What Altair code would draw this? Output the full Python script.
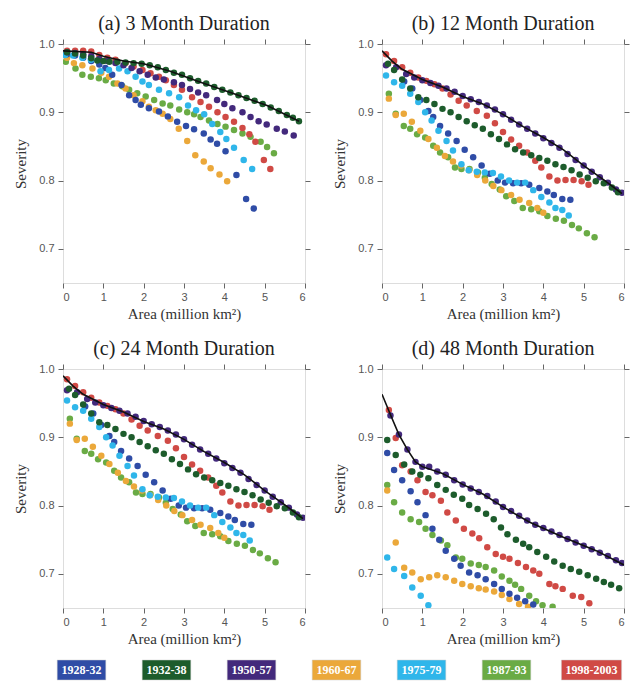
import altair as alt
import pandas as pd

PERIODS = ["1928-32", "1932-38", "1950-57", "1960-67", "1975-79", "1987-93", "1998-2003"]
COLORS = ["#2f4ca6", "#1d5c2c", "#43297c", "#eba83a", "#2fb6ea", "#6aab45", "#d04a45"]
DRAW_ORDER = ["1987-93", "1960-67", "1928-32", "1975-79", "1998-2003", "1950-57", "1932-38"]
TITLES = {"a": "(a) 3 Month Duration", "b": "(b) 12 Month Duration",
          "c": "(c) 24 Month Duration", "d": "(d) 48 Month Duration"}
X_TICKS = [0, 1, 2, 3, 4, 5, 6]
Y_TICKS = [0.7, 0.8, 0.9, 1.0]

# ---------------- panel (a) 3 month ----------------
A = {
    "1928-32": [(0.1, 0.985), (0.3, 0.983), (0.5, 0.98), (0.7, 0.975), (0.9, 0.97), (1.05, 0.965),
                (1.22, 0.955), (1.45, 0.94), (1.64, 0.925), (1.8, 0.918), (1.93, 0.911), (2.13, 0.906),
                (2.38, 0.901), (2.6, 0.894), (2.83, 0.886), (3.05, 0.88), (3.25, 0.875), (3.49, 0.869),
                (3.66, 0.86), (3.82, 0.854), (4.03, 0.843), (4.3, 0.808), (4.54, 0.773), (4.73, 0.759)],
    "1932-38": [(0.1, 0.988), (0.3, 0.986), (0.5, 0.983), (0.7, 0.979), (0.85, 0.976), (1.0, 0.975),
                (1.15, 0.974), (1.35, 0.974), (1.55, 0.973), (1.75, 0.972), (1.95, 0.971), (2.15, 0.969),
                (2.35, 0.966), (2.55, 0.962), (2.75, 0.958), (2.95, 0.955), (3.15, 0.95), (3.35, 0.946),
                (3.55, 0.942), (3.75, 0.937), (3.95, 0.933), (4.15, 0.929), (4.35, 0.925), (4.55, 0.921),
                (4.75, 0.917), (4.95, 0.912), (5.15, 0.907), (5.35, 0.902), (5.55, 0.896), (5.7, 0.892),
                (5.85, 0.887)],
    "1950-57": [(0.1, 0.988), (0.3, 0.987), (0.5, 0.985), (0.7, 0.982), (0.9, 0.978), (1.1, 0.975),
                (1.3, 0.972), (1.5, 0.969), (1.7, 0.965), (1.9, 0.96), (2.1, 0.955), (2.3, 0.951),
                (2.5, 0.948), (2.75, 0.944), (2.95, 0.94), (3.15, 0.934), (3.35, 0.929), (3.55, 0.925),
                (3.82, 0.918), (4.0, 0.912), (4.2, 0.906), (4.45, 0.9), (4.65, 0.893), (4.85, 0.887),
                (5.05, 0.882), (5.3, 0.876), (5.5, 0.872), (5.72, 0.866)],
    "1960-67": [(0.1, 0.98), (0.27, 0.972), (0.48, 0.969), (0.73, 0.964), (0.95, 0.958), (1.14, 0.952),
                (1.35, 0.942), (1.55, 0.935), (1.75, 0.925), (1.97, 0.916), (2.13, 0.908), (2.3, 0.903),
                (2.47, 0.898), (2.66, 0.89), (2.87, 0.876), (3.08, 0.858), (3.28, 0.837), (3.49, 0.828),
                (3.66, 0.818), (3.88, 0.809), (4.07, 0.799)],
    "1975-79": [(0.05, 0.984), (0.25, 0.983), (0.48, 0.98), (0.69, 0.977), (0.93, 0.96), (1.14, 0.962),
                (1.39, 0.964), (1.6, 0.96), (1.8, 0.952), (1.97, 0.945), (2.13, 0.94), (2.38, 0.933),
                (2.63, 0.928), (2.88, 0.922), (3.1, 0.91), (3.3, 0.903), (3.5, 0.897), (3.7, 0.883),
                (3.9, 0.871), (4.05, 0.861), (4.24, 0.848), (4.48, 0.83), (4.69, 0.817)],
    "1987-93": [(0.07, 0.974), (0.31, 0.964), (0.48, 0.955), (0.69, 0.952), (0.89, 0.95), (1.06, 0.947),
                (1.26, 0.942), (1.47, 0.938), (1.64, 0.933), (1.84, 0.928), (2.05, 0.923), (2.26, 0.918),
                (2.47, 0.913), (2.66, 0.91), (2.88, 0.904), (3.08, 0.9), (3.25, 0.897), (3.41, 0.893),
                (3.62, 0.888), (3.83, 0.883), (4.03, 0.879), (4.24, 0.874), (4.45, 0.869), (4.65, 0.864),
                (4.9, 0.857), (5.06, 0.849), (5.23, 0.84)],
    "1998-2003": [(0.1, 0.99), (0.3, 0.99), (0.5, 0.99), (0.7, 0.989), (0.9, 0.984), (1.1, 0.98),
                  (1.3, 0.977), (1.55, 0.972), (1.75, 0.967), (1.97, 0.962), (2.17, 0.957), (2.38, 0.952),
                  (2.55, 0.947), (2.75, 0.94), (2.95, 0.933), (3.2, 0.922), (3.41, 0.915), (3.62, 0.908),
                  (3.83, 0.9), (4.03, 0.893), (4.24, 0.886), (4.45, 0.877), (4.62, 0.868), (4.77, 0.857),
                  (4.98, 0.83), (5.14, 0.817)],
}
A_LINE = [(0.0, 0.99), (0.7, 0.988), (1.0, 0.982), (1.5, 0.975), (2.0, 0.971), (2.66, 0.96),
          (3.41, 0.944), (4.24, 0.927), (5.06, 0.91), (5.85, 0.887)]

# ---------------- panel (b) 12 month ----------------
B = {
    "1928-32": [(0.55, 0.945), (0.75, 0.935), (0.95, 0.918), (1.15, 0.902), (1.27, 0.893), (1.44, 0.88),
                (1.64, 0.869), (1.85, 0.858), (2.05, 0.845), (2.26, 0.834), (2.47, 0.822), (2.67, 0.81),
                (2.87, 0.8), (3.05, 0.797), (3.25, 0.796), (3.45, 0.796), (3.65, 0.794), (3.9, 0.789),
                (4.1, 0.784), (4.26, 0.779), (4.47, 0.773), (4.67, 0.772)],
    "1932-38": [(0.15, 0.971), (0.3, 0.962), (0.5, 0.948), (0.7, 0.935), (0.9, 0.922), (1.1, 0.918),
                (1.3, 0.912), (1.5, 0.905), (1.7, 0.9), (1.9, 0.893), (2.1, 0.887), (2.3, 0.881),
                (2.5, 0.876), (2.7, 0.868), (2.9, 0.861), (3.1, 0.853), (3.3, 0.846), (3.5, 0.841),
                (3.7, 0.837), (3.9, 0.833), (4.1, 0.829), (4.3, 0.824), (4.5, 0.82), (4.7, 0.815),
                (4.9, 0.809), (5.1, 0.804), (5.3, 0.799), (5.5, 0.796), (5.7, 0.79), (5.85, 0.783)],
    "1950-57": [(0.1, 0.969), (0.35, 0.966), (0.6, 0.956), (0.8, 0.951), (1.0, 0.947), (1.2, 0.943),
                (1.4, 0.939), (1.6, 0.935), (1.8, 0.93), (2.0, 0.924), (2.2, 0.919), (2.4, 0.915),
                (2.6, 0.91), (2.8, 0.904), (3.0, 0.897), (3.2, 0.889), (3.4, 0.882), (3.6, 0.876),
                (3.8, 0.869), (4.0, 0.862), (4.2, 0.855), (4.4, 0.848), (4.6, 0.839), (4.8, 0.83),
                (5.0, 0.822), (5.2, 0.813), (5.4, 0.805), (5.6, 0.797), (5.8, 0.787), (5.95, 0.782)],
    "1960-67": [(0.17, 0.92), (0.34, 0.896), (0.54, 0.898), (0.74, 0.886), (0.95, 0.873), (1.15, 0.861),
                (1.36, 0.848), (1.56, 0.836), (1.76, 0.828), (1.96, 0.822), (2.16, 0.815), (2.36, 0.808),
                (2.56, 0.8), (2.76, 0.792), (2.96, 0.786), (3.2, 0.779), (3.41, 0.772), (3.65, 0.767),
                (3.85, 0.76), (4.0, 0.753)],
    "1975-79": [(0.1, 0.954), (0.3, 0.944), (0.5, 0.939), (0.7, 0.927), (0.9, 0.915), (1.07, 0.9),
                (1.23, 0.888), (1.4, 0.873), (1.6, 0.858), (1.76, 0.844), (1.97, 0.824), (2.15, 0.815),
                (2.35, 0.813), (2.55, 0.812), (2.75, 0.811), (2.95, 0.806), (3.15, 0.8), (3.35, 0.797),
                (3.55, 0.797), (3.75, 0.786), (3.95, 0.776), (4.15, 0.768), (4.3, 0.76), (4.47, 0.757),
                (4.63, 0.749)],
    "1987-93": [(0.17, 0.927), (0.34, 0.898), (0.54, 0.88), (0.7, 0.876), (0.87, 0.868), (1.07, 0.863),
                (1.27, 0.851), (1.44, 0.841), (1.64, 0.834), (1.81, 0.819), (1.97, 0.817), (2.17, 0.817),
                (2.38, 0.812), (2.55, 0.804), (2.72, 0.795), (2.92, 0.787), (3.08, 0.777), (3.28, 0.77),
                (3.49, 0.76), (3.7, 0.758), (3.9, 0.755), (4.1, 0.748), (4.31, 0.744), (4.51, 0.741),
                (4.71, 0.735), (4.88, 0.73), (5.08, 0.723), (5.27, 0.717)],
    "1998-2003": [(0.1, 0.985), (0.3, 0.975), (0.5, 0.966), (0.7, 0.958), (0.9, 0.951), (1.1, 0.946),
                  (1.3, 0.941), (1.5, 0.935), (1.7, 0.926), (1.9, 0.917), (2.1, 0.91), (2.35, 0.902),
                  (2.6, 0.895), (2.8, 0.884), (3.0, 0.871), (3.2, 0.86), (3.4, 0.851), (3.6, 0.841),
                  (3.8, 0.829), (3.95, 0.819), (4.15, 0.806), (4.35, 0.8), (4.55, 0.801), (4.75, 0.801),
                  (4.95, 0.799), (5.12, 0.794)],
}
B_LINE = [(0.0, 0.99), (0.25, 0.975), (0.5, 0.963), (1.0, 0.948), (1.5, 0.937), (2.0, 0.923),
          (2.5, 0.912), (3.0, 0.897), (3.5, 0.879), (4.0, 0.863), (4.5, 0.845), (5.0, 0.822),
          (5.5, 0.801), (5.95, 0.781)]

# ---------------- panel (c) 24 month (same shape as 12 month in the figure) ----------------
C = {k: list(v) for k, v in B.items()}
C_LINE = list(B_LINE)

# ---------------- panel (d) 48 month ----------------
D = {
    "1928-32": [(0.13, 0.877), (0.3, 0.852), (0.5, 0.837), (0.71, 0.821), (0.88, 0.805), (1.08, 0.786),
                (1.25, 0.766), (1.42, 0.75), (1.58, 0.734), (1.79, 0.722), (1.95, 0.712), (2.16, 0.702),
                (2.37, 0.698), (2.57, 0.692), (2.78, 0.685), (2.97, 0.678), (3.16, 0.671), (3.35, 0.665),
                (3.55, 0.66), (3.75, 0.655)],
    "1932-38": [(0.13, 0.896), (0.34, 0.874), (0.55, 0.86), (0.75, 0.85), (0.95, 0.845), (1.15, 0.84),
                (1.37, 0.83), (1.58, 0.823), (1.78, 0.816), (1.99, 0.81), (2.16, 0.801), (2.37, 0.795),
                (2.58, 0.788), (2.77, 0.78), (2.95, 0.768), (3.11, 0.758), (3.32, 0.75), (3.5, 0.744),
                (3.65, 0.739), (3.85, 0.732), (4.07, 0.725), (4.27, 0.718), (4.48, 0.712), (4.68, 0.707),
                (4.89, 0.703), (5.1, 0.698), (5.31, 0.693), (5.5, 0.688), (5.68, 0.684), (5.88, 0.679)],
    "1950-57": [(0.21, 0.932), (0.42, 0.904), (0.63, 0.882), (0.83, 0.864), (1.0, 0.857), (1.17, 0.857),
                (1.37, 0.85), (1.58, 0.845), (1.79, 0.837), (2.0, 0.831), (2.2, 0.825), (2.4, 0.82),
                (2.61, 0.814), (2.82, 0.806), (3.0, 0.798), (3.2, 0.792), (3.4, 0.785), (3.6, 0.778),
                (3.8, 0.772), (4.0, 0.767), (4.2, 0.762), (4.4, 0.757), (4.6, 0.751), (4.8, 0.746),
                (5.0, 0.741), (5.2, 0.736), (5.4, 0.731), (5.6, 0.726), (5.8, 0.72), (5.95, 0.716)],
    "1960-67": [(0.13, 0.822), (0.34, 0.746), (0.55, 0.709), (0.75, 0.702), (0.96, 0.692), (1.17, 0.695),
                (1.37, 0.698), (1.58, 0.695), (1.79, 0.69), (1.99, 0.685), (2.2, 0.682), (2.4, 0.679),
                (2.57, 0.677), (2.78, 0.674), (2.97, 0.669), (3.16, 0.663), (3.4, 0.656), (3.62, 0.652)],
    "1975-79": [(0.13, 0.724), (0.3, 0.707), (0.55, 0.697), (0.75, 0.68), (0.96, 0.668), (1.15, 0.654)],
    "1987-93": [(0.13, 0.83), (0.3, 0.805), (0.5, 0.79), (0.71, 0.78), (0.92, 0.776), (1.08, 0.766),
                (1.25, 0.757), (1.46, 0.749), (1.62, 0.742), (1.83, 0.724), (1.99, 0.722), (2.2, 0.715),
                (2.4, 0.713), (2.57, 0.71), (2.78, 0.705), (2.97, 0.696), (3.16, 0.69), (3.3, 0.684),
                (3.45, 0.678), (3.65, 0.668), (3.82, 0.66), (3.98, 0.654), (4.23, 0.652)],
    "1998-2003": [(0.17, 0.94), (0.34, 0.899), (0.5, 0.859), (0.71, 0.85), (0.88, 0.837), (1.08, 0.82),
                  (1.25, 0.815), (1.46, 0.807), (1.62, 0.79), (1.83, 0.778), (2.03, 0.766), (2.24, 0.759),
                  (2.41, 0.752), (2.61, 0.739), (2.82, 0.729), (3.0, 0.725), (3.16, 0.722), (3.37, 0.716),
                  (3.57, 0.71), (3.75, 0.705), (3.9, 0.7), (4.15, 0.685), (4.3, 0.682), (4.48, 0.678),
                  (4.73, 0.668), (4.94, 0.666), (5.14, 0.657)],
}
D_LINE = [(0.0, 0.963), (0.21, 0.933), (0.42, 0.904), (0.63, 0.882), (0.83, 0.864), (1.0, 0.857),
          (1.5, 0.847), (2.0, 0.831), (2.5, 0.817), (3.0, 0.798), (3.65, 0.776), (4.48, 0.754),
          (5.31, 0.734), (6.0, 0.713)]

PANELS = {"a": (A, A_LINE), "b": (B, B_LINE), "c": (C, C_LINE), "d": (D, D_LINE)}

W, H = 242, 239
LABEL_FONT = "Liberation Sans"
SERIF = "Liberation Serif"

x_scale = alt.Scale(domain=[0, 6], nice=False, zero=False)
y_scale = alt.Scale(domain=[0.65, 1.0], nice=False, zero=False)
color_scale = alt.Scale(domain=PERIODS, range=COLORS)


def make_panel(key):
    series, line = PANELS[key]
    rows = []
    for z, p in enumerate(DRAW_ORDER):
        for (xv, yv) in series[p]:
            rows.append({"period": p, "x": xv, "y": yv, "z": z})
    df = pd.DataFrame(rows)
    ldf = pd.DataFrame(line, columns=["x", "y"])

    x_axis = alt.Axis(values=X_TICKS, format="d", title="Area (million km²)", grid=False,
                      domain=False, tickSize=5, tickColor="#666", labelFont=LABEL_FONT,
                      labelFontSize=11, labelColor="#555", labelPadding=3,
                      titleFont=SERIF, titleFontSize=15, titleFontWeight="normal",
                      titleColor="#333", titlePadding=4)
    y_axis = alt.Axis(values=Y_TICKS, format=".1f", title="Severity", grid=False,
                      domain=False, tickSize=5, tickColor="#666", labelFont=LABEL_FONT,
                      labelFontSize=11, labelColor="#555", labelPadding=4,
                      titleFont=SERIF, titleFontSize=15, titleFontWeight="normal",
                      titleColor="#333", titlePadding=10)

    pts = alt.Chart(df).mark_circle(size=42, opacity=1, clip=True).encode(
        x=alt.X("x:Q", scale=x_scale, axis=x_axis),
        y=alt.Y("y:Q", scale=y_scale, axis=y_axis),
        color=alt.Color("period:N", scale=color_scale, legend=None),
        order=alt.Order("z:Q"),
    )
    ln = alt.Chart(ldf).mark_line(color="#111", strokeWidth=1.6, clip=True).encode(
        x=alt.X("x:Q", scale=x_scale,
                axis=alt.Axis(orient="top", values=X_TICKS, labels=False, title=None, grid=False,
                              domain=False, tickSize=5, tickColor="#666", minExtent=0, maxExtent=5)),
        y=alt.Y("y:Q", scale=y_scale,
                axis=alt.Axis(orient="right", values=Y_TICKS, labels=False, title=None, grid=False,
                              domain=False, tickSize=5, tickColor="#666", minExtent=0, maxExtent=5)),
    )
    return alt.layer(pts, ln).resolve_axis(x="independent", y="independent").properties(
        width=W, height=H,
        title=alt.TitleParams(TITLES[key], font=SERIF, fontSize=20, fontWeight="normal",
                              color="#222", offset=4),
    )


row1 = alt.hconcat(make_panel("a"), make_panel("b"), spacing=21)
row2 = alt.hconcat(make_panel("c"), make_panel("d"), spacing=21)
grid = alt.vconcat(row1, row2, spacing=16)

leg_df = pd.DataFrame({"period": PERIODS})
leg_scale = alt.Scale(domain=PERIODS, range=[-24, 571], paddingInner=0, paddingOuter=0)
leg_bar = alt.Chart(leg_df).transform_calculate(
    w="length(datum.period) * 5.8 + 8"
).mark_bar(stroke="#ccc", strokeWidth=0.5).encode(
    x=alt.X("period:N", sort=PERIODS, axis=None, scale=leg_scale),
    y=alt.value(0),
    y2=alt.value(20),
    size=alt.Size("w:Q", scale=None, legend=None),
    color=alt.Color("period:N", scale=color_scale, legend=None),
)
leg_text = alt.Chart(leg_df).mark_text(color="white", font=SERIF, fontSize=12, fontWeight="bold",
                                       baseline="middle").encode(
    x=alt.X("period:N", sort=PERIODS, axis=None, scale=leg_scale),
    y=alt.value(10),
    text="period:N",
)
legend = alt.layer(leg_bar, leg_text).properties(
    width=540, height=20, view=alt.ViewBackground(strokeWidth=0, stroke="transparent")
)

chart = alt.vconcat(
    grid, legend, spacing=12,
    padding={"left": 5, "top": 5, "right": 0, "bottom": 0},
).configure_view(
    stroke="#555", strokeWidth=1.5
).configure(background="white")

chart.save("out.html", embed_options={"renderer": "svg", "actions": False})
